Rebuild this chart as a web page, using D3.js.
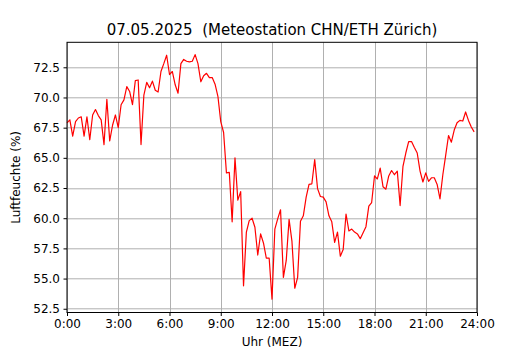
<!DOCTYPE html>
<html>
<head>
<meta charset="utf-8">
<script src="https://cdn.jsdelivr.net/npm/d3@7"></script>
<style>
  body { margin: 0; background: #fff; }
  svg { font-family: "DejaVu Sans", sans-serif; }
</style>
</head>
<body>
<svg id="chart" width="530" height="350"></svg>
<script>
// relative humidity, one reading every 10 minutes from 0:00
const stepMinutes = 10;
const humidity = [
    67.9, 68.15, 66.8, 68.0, 68.3, 68.4, 66.8, 68.4, 66.5, 68.55, 69.0, 68.5,
    68.15, 66.1, 69.85, 66.4, 67.7, 68.55, 67.5, 69.4, 69.8, 70.9, 70.5, 69.4,
    71.4, 71.45, 66.1, 70.2, 71.25, 70.8, 71.35, 70.6, 70.45, 72.15, 72.8, 73.5,
    71.9, 72.15, 71.05, 70.35, 72.8, 73.15, 73.0, 72.95, 73.0, 73.55, 72.8, 71.3,
    71.8, 72.0, 71.65, 71.65, 71.1, 70.1, 68.0, 67.1, 63.75, 63.8, 59.7, 65.0,
    61.5, 62.2, 54.4, 58.85, 59.8, 60.0, 59.25, 56.95, 58.7, 57.95, 56.7, 56.7,
    53.3, 59.1, 59.95, 60.7, 55.1, 56.5, 59.9, 58.1, 54.2, 55.1, 59.75, 60.2,
    61.75, 62.8, 62.85, 64.85, 62.45, 61.8, 61.75, 61.35, 60.2, 59.7, 58.0, 58.85,
    56.85, 57.4, 60.35, 58.95, 59.1, 58.85, 58.7, 58.3, 58.8, 59.3, 61.0, 61.3,
    63.5, 63.25, 64.15, 62.6, 62.4, 63.5, 63.95, 63.6, 63.9, 61.05, 64.3, 65.4,
    66.35, 66.35, 65.85, 65.4, 63.9, 63.0, 63.75, 63.05, 63.35, 63.35, 62.8, 61.6,
    63.6, 65.2, 66.85, 66.3, 67.3, 67.9, 68.1, 68.05, 68.8, 68.1, 67.55, 67.15
];

const xTicks = [0, 3, 6, 9, 12, 15, 18, 21, 24];
const yTicks = [52.5, 55.0, 57.5, 60.0, 62.5, 65.0, 67.5, 70.0, 72.5];
const yDomain = [52.19, 74.57];

const title = "07.05.2025  (Meteostation CHN/ETH Zürich)";
const xLabel = "Uhr (MEZ)";
const yLabel = "Luftfeuchte (%)";

const svg = d3.select("#chart");
const width = +svg.attr("width");
const height = +svg.attr("height");
const margin = {top: 42.3, right: 53, bottom: 37.5, left: 67};
const plotW = width - margin.left - margin.right;
const plotH = height - margin.top - margin.bottom;

const data = humidity.map((v, i) => ({hour: i * stepMinutes / 60, value: v}));

const x = d3.scaleLinear().domain([0, 24]).range([0, plotW]);
const y = d3.scaleLinear().domain(yDomain).range([plotH, 0]);

const g = svg.append("g")
    .attr("transform", `translate(${margin.left},${margin.top})`);

// grid
g.append("g")
    .selectAll("line")
    .data(xTicks)
    .join("line")
    .attr("x1", d => Math.round(x(d)) + 0.5)
    .attr("x2", d => Math.round(x(d)) + 0.5)
    .attr("y1", 0)
    .attr("y2", plotH)
    .attr("stroke", "#b0b0b0")
    .attr("stroke-width", 1);

g.append("g")
    .selectAll("line")
    .data(yTicks)
    .join("line")
    .attr("x1", 0)
    .attr("x2", plotW)
    .attr("y1", d => Math.round(y(d)) + 0.5)
    .attr("y2", d => Math.round(y(d)) + 0.5)
    .attr("stroke", "#b0b0b0")
    .attr("stroke-width", 1);

// humidity line
const line = d3.line()
    .x(d => x(d.hour))
    .y(d => y(d.value));

g.append("path")
    .datum(data)
    .attr("fill", "none")
    .attr("stroke", "#ff0000")
    .attr("stroke-width", 1.2)
    .attr("stroke-linejoin", "round")
    .attr("d", line);

// axes
const xAxis = d3.axisBottom(x)
    .tickValues(xTicks)
    .tickFormat(d => `${d}:00`)
    .tickSize(3.5)
    .tickSizeOuter(0)
    .tickPadding(3.5);

const yAxis = d3.axisLeft(y)
    .tickValues(yTicks)
    .tickFormat(d3.format(".1f"))
    .tickSize(3.5)
    .tickSizeOuter(0)
    .tickPadding(3.5);

const gx = g.append("g")
    .attr("transform", `translate(0,${plotH})`)
    .call(xAxis);

const gy = g.append("g").call(yAxis);

[gx, gy].forEach(a => {
    a.select(".domain").remove();
    a.selectAll("line").attr("stroke", "#000").attr("stroke-width", 1);
    a.selectAll("text")
        .attr("fill", "#000")
        .style("font-size", "12px")
        .style("font-family", "DejaVu Sans, sans-serif");
});

// spines
g.append("rect")
    .attr("x", 0)
    .attr("y", 0)
    .attr("width", plotW)
    .attr("height", plotH)
    .attr("fill", "none")
    .attr("stroke", "#000")
    .attr("stroke-width", 1);

svg.append("text")
    .attr("x", margin.left + plotW / 2)
    .attr("y", 34.5)
    .attr("text-anchor", "middle")
    .style("font-size", "15px")
    .style("white-space", "pre")
    .attr("xml:space", "preserve")
    .text(title);

svg.append("text")
    .attr("x", margin.left + plotW / 2)
    .attr("y", 346)
    .attr("text-anchor", "middle")
    .style("font-size", "12px")
    .text(xLabel);

svg.append("text")
    .attr("transform", `translate(20,${margin.top + plotH / 2}) rotate(-90)`)
    .attr("text-anchor", "middle")
    .style("font-size", "12px")
    .text(yLabel);
</script>
</body>
</html>
